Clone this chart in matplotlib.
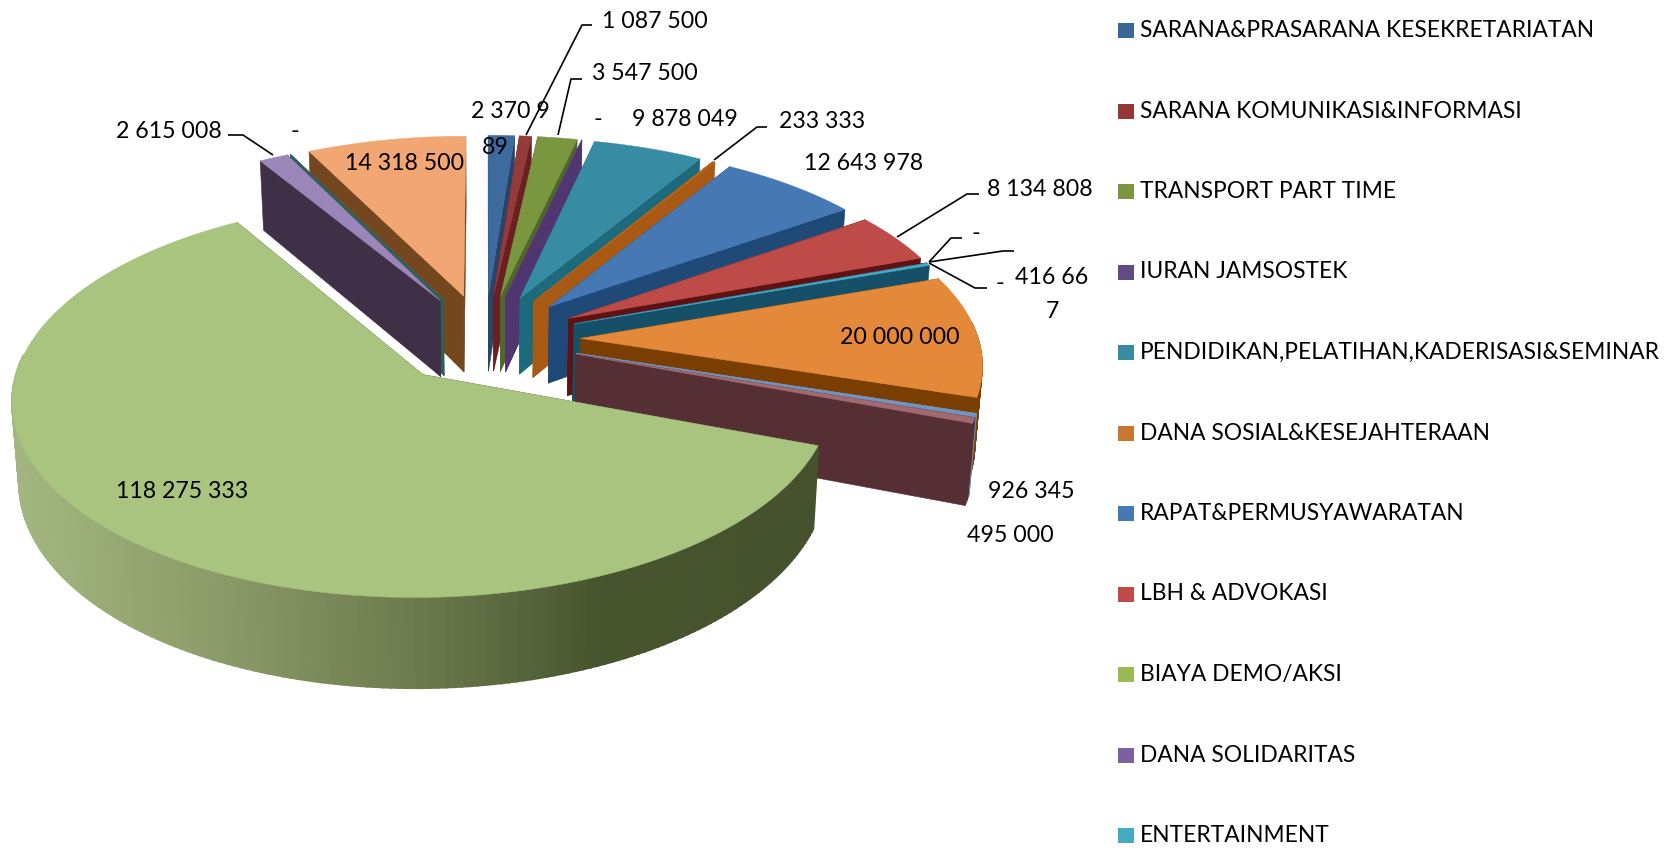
import matplotlib
matplotlib.use('Agg')
import matplotlib.pyplot as plt
from matplotlib.colors import to_rgb
import numpy as np

plt.rcParams['font.family'] = ['Lato', 'DejaVu Sans']

legend_names = ["SARANA&PRASARANA KESEKRETARIATAN", "SARANA KOMUNIKASI&INFORMASI", "TRANSPORT PART TIME",
                "IURAN JAMSOSTEK", "PENDIDIKAN,PELATIHAN,KADERISASI&SEMINAR", "DANA SOSIAL&KESEJAHTERAAN",
                "RAPAT&PERMUSYAWARATAN", "LBH & ADVOKASI", "BIAYA DEMO/AKSI", "DANA SOLIDARITAS", "ENTERTAINMENT"]
values = [2370989, 1087500, 3547500, 0, 9878049, 233333, 12643978, 8134808, 0, 0, 416667,
          20000000, 495000, 926345, 118275333, 2615008, 0, 14318500]
top_colors = ["#3D6B9F", "#953A3A", "#7A973F", "#644A82", "#378BA3", "#B8661E", "#4678B4", "#BE4B48", "#98B954",
              "#7D60A0", "#46AAC4", "#E4883A", "#7394BF", "#A06A70", "#A9C47F", "#9A86B8", "#4A6A6A", "#F2A673"]
side_colors = ["#264569", "#6A2020", "#50662A", "#4F3670", "#1E6A7D", "#A85A14", "#1F4A78", "#5E1212", "#4A2A2A",
               "#3A2A45", "#155068", "#7A3F00", "#6E86B0", "#552F33", "#4A5A30", "#3F3048", "#2F5F55", "#74471F"]
legend_colors = ["#3B6796", "#953735", "#7A963E", "#644A82", "#378BA3", "#C9762F", "#4678B4", "#BE4B48", "#98B954",
                 "#7D60A0", "#46AAC4"]

# side of the big slice goes from light on the left to dark on the right
gradient_x = [15, 220, 420, 600, 820]
gradient_colors = ["#A3B680", "#8A9A68", "#6A7A4C", "#47552E", "#45512D"]

# pie in its own plane, then perspective onto the page
cx, cy = 485, 339
fx, fy = 398, 188
persp = 0.1164
explode = 0.24
depth = 78
bottom_scale = 0.985


def project(u, v, bottom=False):
    k = 1 / (1 + persp * v)
    if bottom:
        return cx + fx * u * k * bottom_scale, cy - fy * v * k + depth * k
    return cx + fx * u * k, cy - fy * v * k


def rim(theta, mid):
    a = np.radians(mid)
    apex_u, apex_v = explode * np.sin(a), explode * np.cos(a)
    t = np.radians(theta)
    return apex_u + np.sin(t), apex_v + np.cos(t), apex_u, apex_v


def side_face(ax, theta, mid, color):
    u, v, au, av = rim(theta, mid)
    pts = [project(au, av), project(u, v), project(u, v, True), project(au, av, True)]
    ax.fill(*zip(*pts), color=color, lw=0.4)


def draw_slice(ax, start, stop, top, side, shaded):
    mid = (start + stop) / 2
    faces = sorted([start, stop], key=lambda t: project(*rim(t, mid)[:2])[1])
    for t in faces:
        side_face(ax, t, mid, side)
    thetas = np.linspace(start, stop, max(2, int(stop - start) + 2))
    for t0, t1 in zip(thetas[:-1], thetas[1:]):
        # far part of the rim faces away, nothing to draw there
        if np.cos(np.radians((t0 + t1) / 2)) > 0.1:
            continue
        u0, v0, _, _ = rim(t0, mid)
        u1, v1, _, _ = rim(t1, mid)
        pts = [project(u0, v0), project(u1, v1), project(u1, v1, True), project(u0, v0, True)]
        color = side
        lw = 0.4
        if shaded:
            x = (pts[0][0] + pts[1][0]) / 2
            rgb = np.array([to_rgb(c) for c in gradient_colors])
            color = [np.interp(x, gradient_x, rgb[:, i]) for i in range(3)]
            # thick edge so the facets of the gradient do not show seams
            lw = 1.6
        ax.fill(*zip(*pts), color=color, lw=lw)
    au, av = rim(start, mid)[2:]
    pts = [project(au, av)]
    for t in thetas:
        u, v, _, _ = rim(t, mid)
        pts.append(project(u, v))
    ax.fill(*zip(*pts), color=top, lw=0.3)


def fmt(v):
    return f"{v:,}".replace(",", " ") if v else "-"


fig = plt.figure(figsize=(16.8, 8.48), dpi=100)
ax = fig.add_axes([0, 0, 1, 1])
ax.set_xlim(0, 1680)
ax.set_ylim(848, 0)
ax.axis('off')

edges = np.concatenate([[0], np.cumsum(values)]) / sum(values) * 360
order = sorted(range(len(values)), key=lambda i: -np.cos(np.radians((edges[i] + edges[i + 1]) / 2)))
biggest = int(np.argmax(values))
for i in order:
    draw_slice(ax, edges[i], edges[i + 1], top_colors[i], side_colors[i], i == biggest)

# leader lines
leaders = [[(526, 135), (582, 25), (592, 25)], [(558, 135), (571, 79), (582, 79)],
           [(714, 160), (757, 127), (767, 127)], [(897, 237), (967, 194), (979, 194)],
           [(929, 262), (951, 238), (962, 238)], [(929, 262), (1003, 251), (1014, 251)],
           [(929, 263), (975, 288), (987, 288)], [(273, 155), (243, 135), (228, 135)]]
for line in leaders:
    ax.plot(*zip(*line), color='black', lw=1.2, solid_capstyle='butt')

# data labels, index into values then centre position
label_pos = {1: (655, 21), 2: (645, 73), 3: (598, 120), 4: (685, 120), 5: (822, 122), 6: (864, 163),
             7: (1040, 189), 8: (976, 234), 9: (1000, 284), 11: (900, 338), 12: (1010, 535), 13: (1031, 492),
             14: (182, 492), 15: (169, 132), 16: (295, 132), 17: (405, 163)}
for i, (x, y) in label_pos.items():
    ax.text(x, y, fmt(values[i]), ha='center', va='center', fontsize=16.7, color='black')

# these two labels wrap inside their boxes
wrap_texts = [fmt(values[0])[:7], fmt(values[0])[7:], fmt(values[10])[:6], fmt(values[10])[6:]]
wrap_pos = [(510, 111), (495, 148), (1052, 278), (1052, 311)]
for s, (x, y) in zip(wrap_texts, wrap_pos):
    ax.text(x, y, s.strip(), ha='center', va='center', fontsize=16.7, color='black')

# legend
for i, name in enumerate(legend_names):
    y = 30.5 + i * 80.5
    ax.fill([1118, 1134, 1134, 1118], [y - 7.5, y - 7.5, y + 7.5, y + 7.5], color=legend_colors[i], lw=0)
    ax.text(1140, y, name, ha='left', va='center', fontsize=16.4, color='black')

fig.savefig('out.png', dpi=100)
